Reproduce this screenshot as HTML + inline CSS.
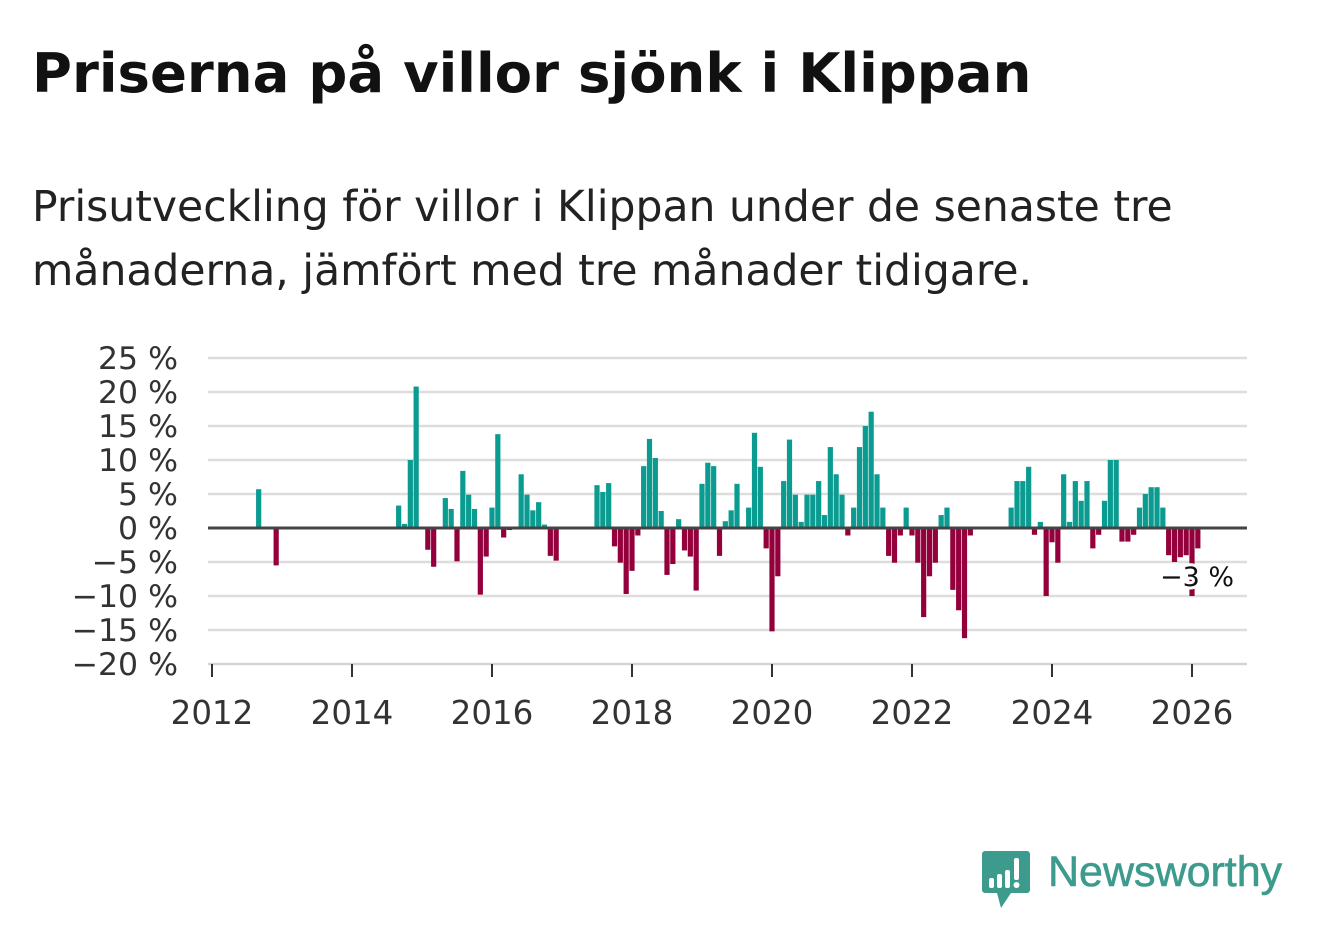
<!DOCTYPE html>
<html><head><meta charset="utf-8">
<style>
body{margin:0;background:#fff;width:1322px;height:939px;overflow:hidden;font-family:"DejaVu Sans","Liberation Sans",sans-serif;}
#title{position:absolute;left:32px;top:41px;font-size:54.5px;font-weight:bold;color:#111;margin:0;white-space:nowrap;font-family:"DejaVu Sans",sans-serif}
#subtitle{position:absolute;left:32px;top:176px;font-size:42.5px;line-height:64px;color:#222;margin:0;white-space:nowrap;font-family:"DejaVu Sans",sans-serif}
svg{position:absolute;left:0;top:0}
</style></head><body>
<h1 id="title">Priserna på villor sjönk i Klippan</h1>
<p id="subtitle">Prisutveckling för villor i Klippan under de senaste tre<br>månaderna, jämfört med tre månader tidigare.</p>
<svg id="chart" width="1322" height="939"></svg>
<script>
// month index 0 = Jan 2012
const monthIdx = [8,11,32,33,34,35,37,38,40,41,42,43,44,45,46,47,48,49,50,51,53,54,55,56,57,58,59,
66,67,68,69,70,71,72,73,74,75,76,77,78,79,80,81,82,83,84,85,86,87,88,89,90,92,93,94,95,96,97,
98,99,100,101,102,103,104,105,106,107,108,109,110,111,112,113,114,115,116,117,118,119,120,121,122,123,124,125,126,127,128,129,130,
137,138,139,140,141,142,143,144,145,146,147,148,149,150,151,152,153,154,155,156,157,158,159,160,161,162,163,164,165,166,167,168,169];
const changePct = [5.7,-5.5,3.3,0.6,10.0,20.8,-3.2,-5.7,4.4,2.8,-4.9,8.4,4.9,2.8,-9.8,-4.2,3.0,13.8,-1.4,-0.3,7.9,4.9,2.6,3.8,0.5,-4.1,-4.8,
6.3,5.3,6.6,-2.7,-5.1,-9.7,-6.3,-1.1,9.1,13.1,10.3,2.5,-6.9,-5.3,1.3,-3.3,-4.2,-9.2,6.5,9.6,9.1,-4.1,1.0,2.6,6.5,3.0,14.0,9.0,-3.0,-15.2,-7.1,
6.9,13.0,4.9,0.9,4.9,4.9,6.9,1.9,11.9,7.9,4.9,-1.1,3.0,11.9,15.0,17.1,7.9,3.0,-4.1,-5.1,-1.1,3.0,-1.1,-5.1,-13.1,-7.1,-5.1,1.9,3.0,-9.1,-12.1,-16.2,-1.1,
3.0,6.9,6.9,9.0,-1.0,0.9,-10.0,-2.1,-5.1,7.9,0.9,6.9,4.0,6.9,-3.0,-1.0,4.0,10.0,10.0,-2.0,-2.0,-1.0,3.0,5.0,6.0,6.0,3.0,-4.0,-5.0,-4.3,-4.0,-10.0,-3.0];
const yTicks = [25,20,15,10,5,0,-5,-10,-15,-20];
const yTickLabels = ["25 %","20 %","15 %","10 %","5 %","0 %","−5 %","−10 %","−15 %","−20 %"];
const xTickYears = [2012,2014,2016,2018,2020,2022,2024,2026];
const lastLabel = "−3 %";

const NS="http://www.w3.org/2000/svg";
const svg=document.getElementById('chart');
const X0=212, PXM=70/12, Y0=528, PXP=6.8, GL=208, GR=1247;
const FONT='DejaVu Sans, sans-serif';
const xs=m=>X0+m*PXM;
const ys=v=>Y0-v*PXP;
function mk(tag,attrs,parent){const e=document.createElementNS(NS,tag);for(const k in attrs)e.setAttribute(k,attrs[k]);(parent||svg).appendChild(e);return e;}

yTicks.forEach((t,i)=>{
  const g=mk('line',{x1:GL,x2:GR,y1:ys(t),y2:ys(t),stroke:'#dddddd','stroke-width':2.5});
  
  
  const lb=mk('text',{x:178,y:ys(t)+11,'text-anchor':'end','font-size':31.5,fill:'#333','font-family':FONT});
  lb.textContent=yTickLabels[i];
  
  
});
monthIdx.forEach((m,i)=>{
  const v=changePct[i];
  const y1=ys(Math.max(v,0)), y2=ys(Math.min(v,0));
  const r=mk('rect',{x:xs(m)-2.6,y:y1,width:5.2,height:Math.max(y2-y1,0.5),fill:v>=0?'#0a9b91':'#93003b'});
  
  
});
const zl=mk('line',{x1:GL,x2:GR,y1:Y0,y2:Y0,stroke:'#444','stroke-width':3});


const ax=mk('line',{x1:GL,x2:GR,y1:664,y2:664,stroke:'#ccc','stroke-width':1});


xTickYears.forEach(yr=>{
  const x=xs((yr-2012)*12);
  const t=mk('line',{x1:x,x2:x,y1:664,y2:677,stroke:'#333','stroke-width':2});
  
  
  const lb=mk('text',{x:x,y:724,'text-anchor':'middle','font-size':32.5,fill:'#333','font-family':FONT});
  lb.textContent=yr;
  
  
});
const ll=mk('text',{x:1197,y:586,'text-anchor':'middle','font-size':27,fill:'#111',stroke:'#fff','stroke-width':6,'paint-order':'stroke','font-family':FONT});
ll.textContent=lastLabel;


</script>
<div style="position:absolute;left:981px;top:850px;">
<svg width="52" height="62" viewBox="0 0 52 62" style="position:absolute;left:0;top:0">
<path d="M4 1h42a3 3 0 0 1 3 3v36a3 3 0 0 1-3 3H30l-10 15-4-15H4a3 3 0 0 1-3-3V4a3 3 0 0 1 3-3z" fill="#3d9b8d"/>
<rect x="8" y="28" width="5" height="10" rx="2" fill="#fff"/><rect x="16" y="24" width="5" height="14" rx="2" fill="#fff"/><rect x="24" y="20" width="5" height="18" rx="2" fill="#fff"/><rect x="33" y="8" width="5" height="22" rx="2" fill="#fff"/><circle cx="35.5" cy="35" r="3" fill="#fff"/>
</svg>
<div style="position:absolute;left:67px;top:-2px;font-size:43px;color:#3d9b8d;white-space:nowrap;font-family:'Liberation Sans',sans-serif;-webkit-text-stroke:0.6px #3d9b8d">Newsworthy</div>
</div>
</body></html>
